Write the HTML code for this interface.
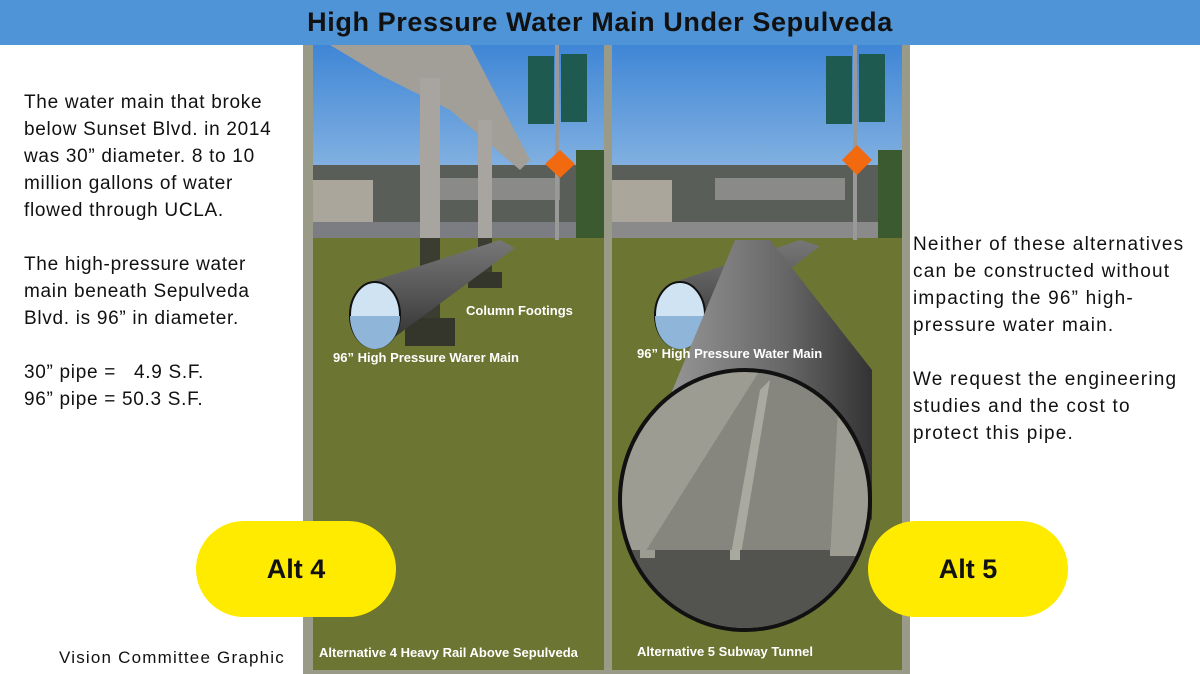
<!DOCTYPE html>
<html><head><meta charset="utf-8"><style>
body{margin:0;width:1200px;height:674px;overflow:hidden;background:#fff;font-family:"Liberation Sans",sans-serif;position:relative}
.hdr{position:absolute;left:0;top:0;width:1200px;height:45px;background:#4f94d6;text-align:center;font-weight:bold;font-size:27px;letter-spacing:0.6px;line-height:45px;color:#111}
.t{position:absolute;font-size:19px;line-height:27px;color:#111;letter-spacing:0.7px}
.pill{position:absolute;background:#ffeb00;border-radius:48px;font-weight:bold;font-size:27px;text-align:center;line-height:96px;height:96px;width:200px;color:#111}
svg{position:absolute;left:0;top:0}
</style></head><body>
<div class="hdr">High Pressure Water Main Under Sepulveda</div>
<svg width="1200" height="674">
<defs>
<linearGradient id="sky" x1="0" y1="0" x2="0" y2="1"><stop offset="0" stop-color="#3f86d6"/><stop offset="1" stop-color="#a9c9e6"/></linearGradient>
<linearGradient id="pipe" x1="0" y1="0" x2="0" y2="1"><stop offset="0" stop-color="#777"/><stop offset="0.5" stop-color="#555"/><stop offset="1" stop-color="#2e2e2e"/></linearGradient>
<linearGradient id="tun" x1="0" y1="0" x2="1" y2="0"><stop offset="0" stop-color="#999"/><stop offset="0.6" stop-color="#666"/><stop offset="1" stop-color="#333"/></linearGradient>
</defs>
<rect x="303" y="45" width="607" height="629" fill="#9a9a88"/>
<rect x="313" y="45" width="291" height="625" fill="#6c7532"/>
<rect x="313" y="45" width="291" height="193" fill="url(#sky)"/>
<rect x="313" y="165" width="291" height="73" fill="#5a5e58"/>
<rect x="313" y="180" width="60" height="45" fill="#aaa69c"/>
<rect x="420" y="178" width="140" height="22" fill="#8a8a88"/>
<rect x="313" y="222" width="291" height="16" fill="#7b7d82"/>
<polygon points="330,45 470,45 530,160 520,170 450,110 380,75" fill="#a29e98"/>
<rect x="420" y="78" width="20" height="250" fill="#a8a4a0"/>
<rect x="478" y="120" width="14" height="150" fill="#a8a4a0"/>
<rect x="420" y="238" width="20" height="90" fill="#3a3d30"/>
<rect x="478" y="238" width="14" height="45" fill="#3a3d30"/>
<rect x="405" y="318" width="50" height="28" fill="#34362c"/>
<rect x="468" y="272" width="34" height="16" fill="#34362c"/>
<polygon points="370,282 500,240 515,248 380,348" fill="url(#pipe)"/>
<ellipse cx="375" cy="315" rx="25" ry="33" fill="#cfe3f2" stroke="#111" stroke-width="2"/>
<path d="M350,316 A25,33 0 0 0 400,316 Z" fill="#8fb6d8"/>
<rect x="555" y="45" width="4" height="195" fill="#999"/>
<rect x="528" y="56" width="26" height="68" fill="#1f5a50"/>
<rect x="561" y="54" width="26" height="68" fill="#1f5a50"/>
<polygon points="560,150 575,164 560,178 545,164" fill="#f26a10"/>
<rect x="576" y="150" width="28" height="88" fill="#3c5a30"/>
<rect x="612" y="45" width="290" height="625" fill="#6c7532"/>
<rect x="612" y="45" width="290" height="193" fill="url(#sky)"/>
<rect x="612" y="165" width="290" height="73" fill="#5a5e58"/>
<rect x="612" y="180" width="60" height="45" fill="#aaa69c"/>
<rect x="715" y="178" width="130" height="22" fill="#8a8a88"/>
<rect x="612" y="222" width="290" height="16" fill="#8a8a8a"/>
<rect x="853" y="45" width="4" height="195" fill="#999"/>
<rect x="826" y="56" width="26" height="68" fill="#1f5a50"/>
<rect x="859" y="54" width="26" height="68" fill="#1f5a50"/>
<polygon points="857,145 872,160 857,175 842,160" fill="#f26a10"/>
<rect x="878" y="150" width="24" height="88" fill="#3c5a30"/>
<polygon points="675,282 800,240 820,246 690,346" fill="url(#pipe)"/>
<ellipse cx="680" cy="315" rx="25" ry="33" fill="#cfe3f2" stroke="#111" stroke-width="2"/>
<path d="M655,316 A25,33 0 0 0 705,316 Z" fill="#8fb6d8"/>
<polygon points="735,240 770,240 872,370 872,520 660,420" fill="url(#tun)"/>
<ellipse cx="745" cy="500" rx="125" ry="130" fill="#9c9c92" stroke="#111" stroke-width="4"/>
<clipPath id="ec"><ellipse cx="745" cy="500" rx="123" ry="128"/></clipPath>
<g clip-path="url(#ec)">
<polygon points="640,560 760,370 840,370 830,560" fill="#86867f"/>
<polygon points="760,390 770,380 740,560 730,560" fill="#aaa9a0"/>
<rect x="600" y="550" width="300" height="100" fill="#53534f"/>
<rect x="640" y="550" width="15" height="8" fill="#9c9c92"/><rect x="730" y="550" width="10" height="10" fill="#aaa9a0"/><rect x="830" y="550" width="30" height="6" fill="#9c9c92"/>
</g>
<g font-family="Liberation Sans,sans-serif" font-weight="bold" fill="#fff" font-size="13">
<text x="466" y="315">Column Footings</text>
<text x="333" y="362">96” High Pressure Warer Main</text>
<text x="637" y="358">96” High Pressure Water Main</text>
<text x="319" y="657">Alternative 4 Heavy Rail Above Sepulveda</text>
<text x="637" y="656">Alternative 5 Subway Tunnel</text>
</g>
</svg>
<div class="t" style="left:24px;top:89px">The water main that broke<br>below Sunset Blvd. in 2014<br>was 30” diameter. 8 to 10<br>million gallons of water<br>flowed through UCLA.<br><br>The high-pressure water<br>main beneath Sepulveda<br>Blvd. is 96” in diameter.<br><br>30” pipe = &nbsp;&nbsp;4.9 S.F.<br>96” pipe = 50.3 S.F.</div>
<div class="t" style="left:913px;top:231px;letter-spacing:1.2px">Neither of these alternatives<br>can be constructed without<br>impacting the 96” high-<br>pressure water main.<br><br>We request the engineering<br>studies and the cost to<br>protect this pipe.</div>
<div class="pill" style="left:196px;top:521px;width:200px">Alt 4</div>
<div class="pill" style="left:868px;top:521px;width:200px">Alt 5</div>
<div class="t" style="left:59px;top:644px;font-size:17px;letter-spacing:1.2px">Vision Committee Graphic</div>
</body></html>
